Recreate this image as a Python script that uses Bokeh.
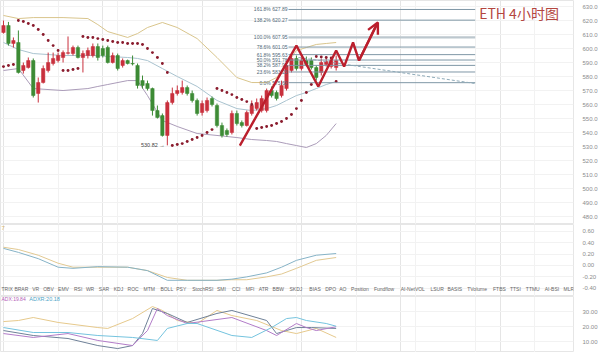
from bokeh.plotting import figure
from bokeh.layouts import column
from bokeh.models import Range1d, FixedTicker, Grid, Label, Arrow, OpenHead, NumeralTickFormatter, ColumnDataSource
from bokeh.core.properties import value
from bokeh.embed import file_html
from bokeh.resources import INLINE

FONT = "Liberation Sans"

# ---------------- data ----------------
opens = [611.4, 616.4, 603.6, 604.3, 584.3, 586.4, 591.4, 567.9, 575.7, 584.3,
         589.3, 591.4, 593.6, 596.6, 596.4, 600.7, 593.6, 595.0, 595.0, 601.4,
         600.0, 600.7, 590.0, 595.0, 587.9, 591.4, 589.3, 587.9, 577.1, 575.0,
         571.4, 555.7, 552.1, 537.9, 561.4, 567.9, 568.6, 572.1, 567.9, 562.9,
         554.3, 555.7, 564.3, 559.3, 545.0, 541.4, 540.0, 553.6, 547.1, 545.0,
         553.6, 557.1, 555.7, 555.7, 570.0, 568.6, 566.4, 571.4, 584.3, 592.9,
         585.7, 591.4, 591.4, 586.4, 582.9, 588.6, 587.1, 586.4]
closes = [616.4, 603.6, 605.7, 582.9, 587.9, 591.4, 566.4, 575.7, 585.7, 590.0,
          592.9, 595.0, 597.1, 597.0, 600.7, 593.6, 596.4, 598.6, 601.4, 593.6,
          595.0, 590.0, 595.0, 585.7, 591.4, 589.3, 589.0, 573.6, 573.6, 571.4,
          555.7, 550.7, 537.9, 561.4, 567.9, 570.0, 572.1, 567.9, 562.9, 553.6,
          560.7, 562.9, 560.0, 545.0, 537.9, 538.6, 553.6, 546.4, 545.0, 554.3,
          559.3, 561.4, 564.3, 570.0, 566.4, 564.3, 573.6, 587.9, 592.9, 585.7,
          591.4, 588.6, 586.4, 579.3, 590.0, 590.7, 591.4, 591.4]
highs = [620.0, 619.0, 607.9, 612.9, 590.0, 593.6, 592.9, 579.3, 587.9, 597.1,
         597.1, 597.1, 598.6, 608.6, 602.1, 602.1, 598.6, 600.7, 603.6, 603.6,
         602.1, 602.1, 597.1, 596.4, 592.9, 592.1, 595.0, 589.3, 580.7, 577.1,
         572.1, 559.3, 553.6, 562.9, 572.1, 573.6, 577.1, 573.6, 570.0, 564.3,
         562.9, 565.0, 565.7, 560.7, 547.1, 542.9, 555.7, 555.7, 548.6, 555.7,
         562.9, 564.3, 566.4, 571.4, 572.9, 570.0, 577.1, 591.4, 595.0, 595.0,
         593.6, 594.3, 593.6, 587.9, 592.9, 592.9, 593.6, 595.0]
lows = [610.7, 602.1, 600.7, 582.1, 582.1, 585.7, 565.0, 561.4, 575.0, 582.9,
        587.9, 590.0, 590.0, 595.7, 595.0, 592.9, 582.9, 592.9, 593.6, 591.4,
        593.6, 589.3, 589.3, 584.3, 586.4, 588.6, 587.9, 571.4, 571.4, 570.0,
        552.1, 550.0, 537.1, 530.82, 560.0, 566.4, 567.1, 566.4, 561.4, 552.1,
        552.1, 554.3, 558.6, 543.6, 536.4, 537.1, 538.6, 545.0, 543.6, 544.3,
        552.1, 555.7, 554.3, 554.3, 565.0, 562.9, 565.0, 570.0, 582.9, 584.3,
        584.3, 587.1, 585.0, 577.1, 580.7, 587.1, 585.7, 584.3]

sar = [587.1, 587.9, 588.6,
       620.0, 619.3, 617.9, 616.4, 613.6, 610.0, 605.7, 602.1, 598.6,
       584.3, 584.3, 585.0, 585.7,
       608.6, 607.9, 607.9, 607.1, 606.4, 605.7, 605.0, 604.3, 604.3, 603.6,
       603.6, 603.6, 602.9, 600.0, 597.1, 593.6, 589.3, 582.9,
       530.7, 531.4, 532.1, 533.6, 535.0, 536.4, 537.9, 540.0, 542.1,
       571.4, 570.0, 568.6, 567.1, 565.0, 563.6, 562.1, 560.0,
       542.9, 543.6, 544.3, 545.0, 546.4, 547.9, 550.0, 552.9, 557.1, 562.9, 568.6, 574.3,
       594.3, 594.0, 593.6, 593.3,
       576.4]

bb_idx = [0, 3, 6, 12, 17, 19, 21, 25, 27, 29, 32, 35, 39, 43, 47, 50, 53, 55, 57, 59, 61, 63, 65, 67]
bb_upper = [623.6, 621.4, 622.1, 622.1, 621.4, 617.1, 612.1, 607.9, 610.7, 615.0, 618.6, 615.0,
            607.1, 593.6, 579.3, 575.7, 575.7, 579.3, 588.6, 598.6, 600.7, 602.9, 603.6, 604.3]
bb_mid = [604.3, 599.3, 596.4, 595.0, 595.0, 595.0, 594.3, 593.6, 592.9, 591.4, 585.7, 580.0,
          572.9, 562.9, 557.1, 555.7, 557.1, 559.3, 562.9, 566.4, 568.6, 571.4, 574.3, 576.4]
bb_lower = [584.3, 585.7, 571.4, 570.0, 571.4, 572.9, 574.3, 577.1, 577.1, 566.4, 548.6, 544.3,
            539.3, 537.9, 536.4, 535.0, 534.3, 533.6, 532.1, 530.7, 529.3, 532.1, 537.9, 546.4]

fib_pct = ["161.8%", "138.2%", "100.0%", "78.6%", "61.8%", "50.0%", "38.2%", "23.6%", "0.0%"]
fib_price = [627.89, 620.27, 607.95, 601.05, 595.63, 591.78, 587.96, 583.23, 575.60]

arrow_x = [47.6, 59.0, 63.4, 67.0, 68.6, 70.4, 71.6, 75.4]
arrow_y = [530.7, 602.1, 572.9, 598.6, 587.1, 604.3, 591.4, 618.6]
trend_x = [59.4, 95.0]
trend_y = [593.6, 575.0]

price_ticks = [480, 490, 500, 510, 520, 530, 540, 550, 560, 570, 580, 590, 600, 610, 620, 630]

# second panel (two oscillator lines)
osc_idx = [0, 3, 7, 11, 14, 19, 25, 29, 33, 37, 43, 46, 49, 53, 56, 59, 63, 67]
osc_tan = [0.32, 0.28, 0.18, 0.04, -0.03, -0.03, -0.03, -0.09, -0.21, -0.26, -0.26, -0.25,
           -0.25, -0.20, -0.15, -0.05, 0.09, 0.14]
osc_blue = [0.30, 0.23, 0.12, -0.03, -0.05, -0.02, -0.03, -0.09, -0.26, -0.26, -0.26, -0.24,
            -0.20, -0.13, -0.03, 0.09, 0.18, 0.21]
osc_ticks = [-0.4, -0.2, 0.0, 0.2, 0.4, 0.6]

tabs = ["TRIX", "BRAR", "VR", "OBV", "EMV", "RSI", "WR", "SAR", "KDJ", "ROC", "MTM", "BOLL",
        "PSY", "StochRSI", "SMI", "CCI", "MFI", "ATR", "BBW", "SKDJ", "BIAS", "DPO", "AO",
        "Position", "Fundflow", "AI-NetVOL", "LSUR", "BASIS", "TVolume", "FTBS", "TTSI",
        "TTMU", "AI-BSI", "MLR"]

# third panel (DMI)
dmi_tan_idx = [0, 3, 6, 11, 19, 21, 26, 30, 32, 35, 39, 43, 46, 51, 56, 59, 63, 67]
dmi_tan = [23.3, 24.0, 26.0, 22.7, 19.3, 18.7, 25.3, 33.3, 30.7, 24.0, 22.0, 30.7, 27.3,
           24.0, 17.3, 15.3, 18.7, 12.7]
dmi_gray_idx = [0, 6, 13, 19, 23, 26, 28, 30, 33, 37, 43, 46, 53, 55, 57, 59, 62, 67]
dmi_gray = [17.3, 14.0, 12.0, 7.3, 5.3, 7.3, 15.3, 32.0, 28.7, 22.7, 28.7, 30.7, 24.0,
            15.3, 17.3, 19.3, 19.3, 18.7]
adx_idx = [0, 6, 13, 19, 26, 29, 31, 33, 37, 46, 53, 55, 59, 61, 63, 67]
adx = [15.3, 12.7, 15.3, 10.7, 7.3, 17.3, 32.0, 27.3, 22.0, 26.0, 17.3, 14.0, 22.0, 19.3,
       17.3, 19.84]
adxr_idx = [0, 6, 13, 19, 26, 31, 33, 37, 39, 46, 50, 54, 57, 59, 61, 65, 67]
adxr = [19.3, 16.0, 16.0, 14.0, 12.7, 10.7, 18.7, 22.0, 22.0, 14.0, 12.7, 19.3, 25.3, 26.0,
        24.0, 22.0, 20.18]
dmi_ticks = [10, 20, 30]

# ---------------- layout / styling ----------------
PX0 = 3.0      # screen x of candle 0
PXS = 5.0      # pixels per candle
def sx(px):
    return (px - PX0) / PXS

xr = Range1d(sx(0), sx(577))
vgrid = [sx(v) for v in (58, 118, 178, 238, 298, 358, 418, 478, 538)]


def panel(h, y0, y1, ticks, fmt):
    p = figure(width=600, height=h, x_range=xr, y_range=Range1d(y0, y1),
               output_backend="svg", toolbar_location=None,
               x_axis_location=None, y_axis_location="right",
               min_border_left=0, min_border_right=23, min_border_top=0, min_border_bottom=0,
               background_fill_color="white", border_fill_color="white",
               outline_line_color="#e6e6e6")
    ax = p.yaxis[0]
    ax.ticker = FixedTicker(ticks=ticks)
    ax.formatter = NumeralTickFormatter(format=fmt)
    ax.axis_line_color = None
    ax.major_tick_line_color = None
    ax.minor_tick_line_color = None
    ax.major_label_text_font_size = "6px"
    ax.major_label_text_color = "#8c8c8c"
    ax.major_label_text_font = FONT
    ax.major_label_standoff = 3
    p.ygrid.grid_line_color = "#f2f2f2"
    p.add_layout(Grid(dimension=0, ticker=FixedTicker(ticks=vgrid), grid_line_color="#f2f2f2"))
    return p


# ---- main price panel ----
p1 = panel(224, 474.3, 634.3, price_ticks, "0.0")

p1.line(bb_idx, bb_upper, line_color="#d9c58c", line_width=1)
p1.line(bb_idx, bb_mid, line_color="#a9c3cf", line_width=1)
p1.line(bb_idx, bb_lower, line_color="#ab9cb9", line_width=1)

n = len(closes)
idx = list(range(n))
RED, GREEN = "#c9303d", "#3d8b35"
cols = [RED if c >= o else GREEN for o, c in zip(opens, closes)]
src = ColumnDataSource(dict(x=idx, h=highs, l=lows,
                            top=[max(o, c) for o, c in zip(opens, closes)],
                            bot=[min(o, c) for o, c in zip(opens, closes)],
                            col=cols))
p1.segment(x0="x", y0="h", x1="x", y1="l", line_color="col", line_width=1, source=src)
p1.vbar(x="x", top="top", bottom="bot", width=0.68, fill_color="col", line_color="col",
        line_width=0.5, source=src)

p1.scatter(idx, sar, size=2.9, fill_color="#8a1b2d", line_color=None)

# fibonacci levels
fib_x0, fib_x1 = sx(290), sx(478)
for pct, pr in zip(fib_pct, fib_price):
    if pct == "100.0%":
        p1.line([fib_x0, fib_x1], [pr, pr], line_color="#bcc7ce", line_width=2.2)
    else:
        p1.line([fib_x0, fib_x1], [pr, pr], line_color="#7f97a6", line_width=1)
p1.text(x=[sx(289)] * len(fib_pct), y=fib_price,
        text=[f"{a} {b:.2f}" for a, b in zip(fib_pct, fib_price)],
        text_font=value(FONT), text_font_size="5px", text_color="#4f6878",
        text_align="right", text_baseline="middle")

p1.line(trend_x, trend_y, line_color="#8eaab8", line_width=1, line_dash="3 2")

# hand drawn arrow
p1.line(arrow_x[:-1] + [arrow_x[-1] - 0.15], arrow_y[:-1] + [arrow_y[-1] - 0.7],
        line_color="#bb1f2d", line_width=2.4)
p1.add_layout(Arrow(end=OpenHead(size=11, line_width=2.4, line_color="#bb1f2d"),
                    x_start=arrow_x[-2], y_start=arrow_y[-2],
                    x_end=arrow_x[-1], y_end=arrow_y[-1],
                    line_color="#bb1f2d", line_width=2.4))

# low marker
lo_i = lows.index(min(lows))
p1.text(x=[lo_i - 0.5], y=[min(lows)], text=[f"{min(lows):.2f} \u2192"],
        text_font=value(FONT), text_font_size="5.5px", text_color="#444444",
        text_align="right", text_baseline="middle")

# title
p1.add_layout(Label(x=sx(482), y=634.3 - 1.6, text="ETH 4小时图", text_font="Noto Sans CJK SC",
                    text_font_size="14px", text_color="#b4463f", text_baseline="top",
                    text_align="left"))

# last price tag
p1.add_layout(Label(x=sx(581), y=closes[-1], text=f"{closes[-1]:.1f}", text_font=FONT,
                    text_font_size="6px", text_color="white", text_baseline="middle",
                    text_align="left", background_fill_color="#de6b76",
                    border_line_color="#de6b76"))

# ---- oscillator panel ----
p2 = panel(72, -0.544, 0.719, osc_ticks, "0.00")
p2.line(osc_idx, osc_tan, line_color="#e2c992", line_width=1)
p2.line(osc_idx, osc_blue, line_color="#86b3c7", line_width=1)
p2.text(x=[sx(1)], y=[0.655], text=["7"], text_font=value(FONT), text_font_size="6px",
        text_color="#d9b66e", text_baseline="middle")
tab_px = [1, 14, 32, 43, 58, 74, 86, 99, 114, 128, 144, 161, 177, 193, 218, 233, 247, 260,
          274, 291, 311, 327, 341, 353, 376, 403, 433, 450, 470, 496, 513, 529, 548, 567]
p2.text(x=[sx(v) for v in tab_px], y=[-0.42] * len(tabs), text=tabs,
        text_font=value(FONT), text_font_size="5px", text_color="#666666",
        text_align="left", text_baseline="middle")

# ---- DMI panel ----
p3 = panel(56, 2.67, 40.0, dmi_ticks, "0.00")
p3.line(dmi_tan_idx, dmi_tan, line_color="#e6c98c", line_width=1)
p3.line(dmi_gray_idx, dmi_gray, line_color="#6f8198", line_width=1)
p3.line(adx_idx, adx, line_color="#b27cc8", line_width=1)
p3.line(adxr_idx, adxr, line_color="#74c3de", line_width=1)
p3.text(x=[sx(1)], y=[38.3], text=[f"ADX:{adx[-1]:.2f}"], text_font=value(FONT),
        text_font_size="5px", text_color="#b45cb8", text_baseline="middle")
p3.text(x=[sx(29)], y=[38.3], text=[f"ADXR:{adxr[-1]:.2f}"], text_font=value(FONT),
        text_font_size="5.5px", text_color="#4aa3c6", text_baseline="middle")

layout = column(p1, p2, p3, spacing=0)
open("out.html", "w").write(file_html(layout, INLINE))
